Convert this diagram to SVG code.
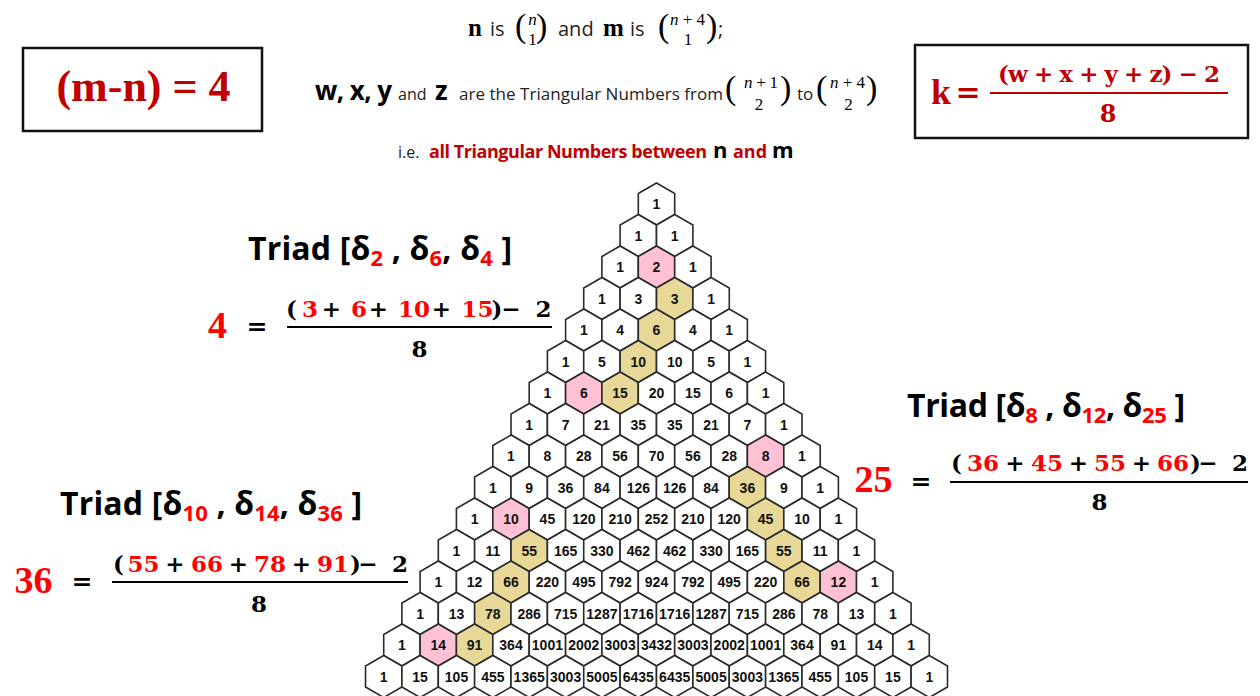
<svg xmlns="http://www.w3.org/2000/svg" xmlns:xlink="http://www.w3.org/1999/xlink" width="1260" height="696" viewBox="0 0 1260 696">
<style>
.cell use{fill:#fff;stroke:#2a2a2a;stroke-width:1.6}
.cell.p use{fill:#ffc1d3}
.cell.t use{fill:#e7d898}
.cell text{font-family:"Liberation Sans",Arial,sans-serif;font-weight:bold;font-size:14px;text-anchor:middle;fill:#111}
.sans{font-family:"Open Sans","Liberation Sans",sans-serif;fill:#222}
.sb{font-family:"Open Sans","Liberation Sans",sans-serif;font-weight:bold;fill:#000}
.mb{font-family:"Liberation Serif","Times New Roman",serif;font-weight:bold;font-size:25px;fill:#000}
.par{font-family:"Liberation Serif","Times New Roman",serif;font-size:34px;fill:#000}
.ms{font-family:"Liberation Serif","Times New Roman",serif;font-size:17px;fill:#000}
.mid{text-anchor:middle}
.dred{fill:#c00000}
.triad{font-family:"Open Sans","Liberation Sans",sans-serif;font-weight:bold;font-size:32px;fill:#000}
.sub{font-size:22px;fill:#f00}
.big{font-family:"Liberation Serif","Times New Roman",serif;font-weight:bold;font-size:38px;fill:#f00;text-anchor:middle}
.eq{font-family:"DejaVu Serif",serif;font-weight:bold;font-size:25px;text-anchor:middle;fill:#000}
.num{font-family:"DejaVu Serif",serif;font-weight:bold;font-size:23px;text-anchor:middle;fill:#000}
.r{fill:#f00}
.bar{stroke:#000;stroke-width:2}
.box{fill:#fff;stroke:#111;stroke-width:2.5}
</style>
<defs>
<polygon id="hx" points="0,-21 18.19,-10.5 18.19,10.5 0,21 -18.19,10.5 -18.19,-10.5"/>
</defs>
<rect width="1260" height="696" fill="#fff"/>

<g id="header">
<text class="mb" x="468" y="36">n</text>
<text class="sans" x="490" y="36" font-size="20">is</text>
<text class="par" x="515" y="37">(</text>
<text class="ms mid" x="532.5" y="25" font-style="italic">n</text>
<text class="ms mid" x="532.5" y="45">1</text>
<text class="par" x="536" y="37">)</text>
<text class="sans" x="558" y="36" font-size="20">and</text>
<text class="mb" x="603" y="36">m</text>
<text class="sans" x="630" y="36" font-size="20">is</text>
<text class="par" x="658" y="37">(</text>
<text class="ms" x="670" y="25" textLength="35"><tspan font-style="italic">n</tspan>+4</text>
<text class="ms mid" x="688" y="45">1</text>
<text class="par" x="706" y="37">)</text>
<text class="sans" x="718" y="36" font-size="20">;</text>

<text class="sb" x="315" y="100" font-size="26" textLength="77">w, x, y</text>
<text class="sans" x="398" y="100" font-size="16">and</text>
<text class="sb" x="435" y="100" font-size="26">z</text>
<text class="sans" x="459" y="100" font-size="17" textLength="264">are the Triangular Numbers from</text>
<text class="par" x="725" y="99">(</text>
<text class="ms" x="744" y="88" textLength="34"><tspan font-style="italic">n</tspan>+1</text>
<text class="ms mid" x="759" y="110">2</text>
<text class="par" x="780" y="99">)</text>
<text class="sans" x="797" y="100" font-size="17">to</text>
<text class="par" x="816" y="99">(</text>
<text class="ms" x="830" y="88" textLength="35"><tspan font-style="italic">n</tspan>+4</text>
<text class="ms mid" x="848.5" y="110">2</text>
<text class="par" x="866" y="99">)</text>

<text class="sans" x="398" y="158" font-size="16">i.e.</text>
<text class="sb dred" x="429" y="158" font-size="18" textLength="278">all Triangular Numbers between</text>
<text class="sb" x="713" y="158" font-size="22">n</text>
<text class="sb dred" x="733" y="158" font-size="18">and</text>
<text class="sb" x="772" y="158" font-size="22">m</text>
</g>

<g id="box-mn">
<rect class="box" x="23" y="48" width="239" height="83"/>
<text x="143.5" y="101" text-anchor="middle" font-family="Liberation Serif, Times New Roman, serif" font-weight="bold" font-size="44" fill="#c00000">(m-n) = 4</text>
</g>

<g id="box-k">
<rect class="box" x="915" y="45" width="333" height="93"/>
<text x="931" y="104" font-family="Liberation Serif, Times New Roman, serif" font-weight="bold" font-size="36" fill="#c00000">k</text>
<text class="eq" x="968" y="102" style="font-size:30px;fill:#c00000">=</text>
<line x1="990" y1="93" x2="1228" y2="93" stroke="#c00000" stroke-width="2"/>
<text x="998" y="82" font-family="DejaVu Serif, serif" font-weight="bold" font-size="23" fill="#c00000" textLength="222">(w + x + y + z) − 2</text>
<text class="num" x="1108" y="122" style="fill:#c00000;font-size:24px">8</text>
</g>

<g id="triad-1">
<text class="triad" x="248" y="260" textLength="264">Triad [δ<tspan class="sub" dy="6">2</tspan><tspan dy="-6"> , δ</tspan><tspan class="sub" dy="6">6</tspan><tspan dy="-6">, δ</tspan><tspan class="sub" dy="6">4</tspan><tspan dy="-6"> ]</tspan></text>
<text class="big" x="217.5" y="338">4</text>
<text class="eq" x="257" y="335">=</text>
<line class="bar" x1="287" y1="327" x2="552" y2="327"/>
<text class="num" y="317"><tspan x="291.5">(</tspan><tspan x="310" class="r">3</tspan><tspan x="331.5">+</tspan><tspan x="359" class="r">6</tspan><tspan x="378.5">+</tspan><tspan x="414" class="r">10</tspan><tspan x="441.5">+</tspan><tspan x="477.5" class="r">15</tspan><tspan x="497">)</tspan><tspan x="511">−</tspan><tspan x="543.5">2</tspan></text>
<text class="num" x="419.5" y="357">8</text>
</g>

<g id="triad-2">
<text class="triad" x="907" y="417" textLength="278">Triad [δ<tspan class="sub" dy="6">8</tspan><tspan dy="-6"> , δ</tspan><tspan class="sub" dy="6">12</tspan><tspan dy="-6">, δ</tspan><tspan class="sub" dy="6">25</tspan><tspan dy="-6"> ]</tspan></text>
<text class="big" x="873.5" y="492">25</text>
<text class="eq" x="921" y="490">=</text>
<line class="bar" x1="950" y1="482" x2="1248" y2="482"/>
<text class="num" y="471"><tspan x="956.5">(</tspan><tspan x="983" class="r">36</tspan><tspan x="1015">+</tspan><tspan x="1047" class="r">45</tspan><tspan x="1078.5">+</tspan><tspan x="1110" class="r">55</tspan><tspan x="1141.5">+</tspan><tspan x="1173" class="r">66</tspan><tspan x="1195.5">)</tspan><tspan x="1208">−</tspan><tspan x="1240">2</tspan></text>
<text class="num" x="1099.5" y="510">8</text>
</g>

<g id="triad-3">
<text class="triad" x="60" y="515" textLength="302">Triad [δ<tspan class="sub" dy="6">10</tspan><tspan dy="-6"> , δ</tspan><tspan class="sub" dy="6">14</tspan><tspan dy="-6">, δ</tspan><tspan class="sub" dy="6">36</tspan><tspan dy="-6"> ]</tspan></text>
<text class="big" x="33.5" y="593">36</text>
<text class="eq" x="82" y="590">=</text>
<line class="bar" x1="112" y1="582" x2="408" y2="582"/>
<text class="num" y="572"><tspan x="118.5">(</tspan><tspan x="143.5" class="r">55</tspan><tspan x="175">+</tspan><tspan x="207" class="r">66</tspan><tspan x="238.5">+</tspan><tspan x="270" class="r">78</tspan><tspan x="301.5">+</tspan><tspan x="333" class="r">91</tspan><tspan x="355.5">)</tspan><tspan x="368">−</tspan><tspan x="400">2</tspan></text>
<text class="num" x="259" y="612">8</text>
</g>

<g id="triangle">
<g id="r0c0" class="cell" transform="translate(656.5,204)"><use href="#hx"/><text y="5">1</text></g>

<g id="r1c0" class="cell" transform="translate(638.3,235.5)"><use href="#hx"/><text y="5">1</text></g>
<g id="r1c1" class="cell" transform="translate(674.7,235.5)"><use href="#hx"/><text y="5">1</text></g>

<g id="r2c0" class="cell" transform="translate(620.1,267)"><use href="#hx"/><text y="5">1</text></g>
<g id="r2c1" class="cell p" transform="translate(656.5,267)"><use href="#hx"/><text y="5">2</text></g>
<g id="r2c2" class="cell" transform="translate(692.9,267)"><use href="#hx"/><text y="5">1</text></g>

<g id="r3c0" class="cell" transform="translate(601.9,298.5)"><use href="#hx"/><text y="5">1</text></g>
<g id="r3c1" class="cell" transform="translate(638.3,298.5)"><use href="#hx"/><text y="5">3</text></g>
<g id="r3c2" class="cell t" transform="translate(674.7,298.5)"><use href="#hx"/><text y="5">3</text></g>
<g id="r3c3" class="cell" transform="translate(711.1,298.5)"><use href="#hx"/><text y="5">1</text></g>

<g id="r4c0" class="cell" transform="translate(583.8,330)"><use href="#hx"/><text y="5">1</text></g>
<g id="r4c1" class="cell" transform="translate(620.1,330)"><use href="#hx"/><text y="5">4</text></g>
<g id="r4c2" class="cell t" transform="translate(656.5,330)"><use href="#hx"/><text y="5">6</text></g>
<g id="r4c3" class="cell" transform="translate(692.9,330)"><use href="#hx"/><text y="5">4</text></g>
<g id="r4c4" class="cell" transform="translate(729.2,330)"><use href="#hx"/><text y="5">1</text></g>

<g id="r5c0" class="cell" transform="translate(565.6,361.5)"><use href="#hx"/><text y="5">1</text></g>
<g id="r5c1" class="cell" transform="translate(601.9,361.5)"><use href="#hx"/><text y="5">5</text></g>
<g id="r5c2" class="cell t" transform="translate(638.3,361.5)"><use href="#hx"/><text y="5">10</text></g>
<g id="r5c3" class="cell" transform="translate(674.7,361.5)"><use href="#hx"/><text y="5">10</text></g>
<g id="r5c4" class="cell" transform="translate(711.1,361.5)"><use href="#hx"/><text y="5">5</text></g>
<g id="r5c5" class="cell" transform="translate(747.4,361.5)"><use href="#hx"/><text y="5">1</text></g>

<g id="r6c0" class="cell" transform="translate(547.4,393)"><use href="#hx"/><text y="5">1</text></g>
<g id="r6c1" class="cell p" transform="translate(583.8,393)"><use href="#hx"/><text y="5">6</text></g>
<g id="r6c2" class="cell t" transform="translate(620.1,393)"><use href="#hx"/><text y="5">15</text></g>
<g id="r6c3" class="cell" transform="translate(656.5,393)"><use href="#hx"/><text y="5">20</text></g>
<g id="r6c4" class="cell" transform="translate(692.9,393)"><use href="#hx"/><text y="5">15</text></g>
<g id="r6c5" class="cell" transform="translate(729.2,393)"><use href="#hx"/><text y="5">6</text></g>
<g id="r6c6" class="cell" transform="translate(765.6,393)"><use href="#hx"/><text y="5">1</text></g>

<g id="r7c0" class="cell" transform="translate(529.2,424.5)"><use href="#hx"/><text y="5">1</text></g>
<g id="r7c1" class="cell" transform="translate(565.6,424.5)"><use href="#hx"/><text y="5">7</text></g>
<g id="r7c2" class="cell" transform="translate(601.9,424.5)"><use href="#hx"/><text y="5">21</text></g>
<g id="r7c3" class="cell" transform="translate(638.3,424.5)"><use href="#hx"/><text y="5">35</text></g>
<g id="r7c4" class="cell" transform="translate(674.7,424.5)"><use href="#hx"/><text y="5">35</text></g>
<g id="r7c5" class="cell" transform="translate(711.1,424.5)"><use href="#hx"/><text y="5">21</text></g>
<g id="r7c6" class="cell" transform="translate(747.4,424.5)"><use href="#hx"/><text y="5">7</text></g>
<g id="r7c7" class="cell" transform="translate(783.8,424.5)"><use href="#hx"/><text y="5">1</text></g>

<g id="r8c0" class="cell" transform="translate(511,456)"><use href="#hx"/><text y="5">1</text></g>
<g id="r8c1" class="cell" transform="translate(547.4,456)"><use href="#hx"/><text y="5">8</text></g>
<g id="r8c2" class="cell" transform="translate(583.8,456)"><use href="#hx"/><text y="5">28</text></g>
<g id="r8c3" class="cell" transform="translate(620.1,456)"><use href="#hx"/><text y="5">56</text></g>
<g id="r8c4" class="cell" transform="translate(656.5,456)"><use href="#hx"/><text y="5">70</text></g>
<g id="r8c5" class="cell" transform="translate(692.9,456)"><use href="#hx"/><text y="5">56</text></g>
<g id="r8c6" class="cell" transform="translate(729.2,456)"><use href="#hx"/><text y="5">28</text></g>
<g id="r8c7" class="cell p" transform="translate(765.6,456)"><use href="#hx"/><text y="5">8</text></g>
<g id="r8c8" class="cell" transform="translate(802,456)"><use href="#hx"/><text y="5">1</text></g>

<g id="r9c0" class="cell" transform="translate(492.8,487.5)"><use href="#hx"/><text y="5">1</text></g>
<g id="r9c1" class="cell" transform="translate(529.2,487.5)"><use href="#hx"/><text y="5">9</text></g>
<g id="r9c2" class="cell" transform="translate(565.6,487.5)"><use href="#hx"/><text y="5">36</text></g>
<g id="r9c3" class="cell" transform="translate(601.9,487.5)"><use href="#hx"/><text y="5">84</text></g>
<g id="r9c4" class="cell" transform="translate(638.3,487.5)"><use href="#hx"/><text y="5">126</text></g>
<g id="r9c5" class="cell" transform="translate(674.7,487.5)"><use href="#hx"/><text y="5">126</text></g>
<g id="r9c6" class="cell" transform="translate(711.1,487.5)"><use href="#hx"/><text y="5">84</text></g>
<g id="r9c7" class="cell t" transform="translate(747.4,487.5)"><use href="#hx"/><text y="5">36</text></g>
<g id="r9c8" class="cell" transform="translate(783.8,487.5)"><use href="#hx"/><text y="5">9</text></g>
<g id="r9c9" class="cell" transform="translate(820.2,487.5)"><use href="#hx"/><text y="5">1</text></g>

<g id="r10c0" class="cell" transform="translate(474.6,519)"><use href="#hx"/><text y="5">1</text></g>
<g id="r10c1" class="cell p" transform="translate(511,519)"><use href="#hx"/><text y="5">10</text></g>
<g id="r10c2" class="cell" transform="translate(547.4,519)"><use href="#hx"/><text y="5">45</text></g>
<g id="r10c3" class="cell" transform="translate(583.8,519)"><use href="#hx"/><text y="5">120</text></g>
<g id="r10c4" class="cell" transform="translate(620.1,519)"><use href="#hx"/><text y="5">210</text></g>
<g id="r10c5" class="cell" transform="translate(656.5,519)"><use href="#hx"/><text y="5">252</text></g>
<g id="r10c6" class="cell" transform="translate(692.9,519)"><use href="#hx"/><text y="5">210</text></g>
<g id="r10c7" class="cell" transform="translate(729.2,519)"><use href="#hx"/><text y="5">120</text></g>
<g id="r10c8" class="cell t" transform="translate(765.6,519)"><use href="#hx"/><text y="5">45</text></g>
<g id="r10c9" class="cell" transform="translate(802,519)"><use href="#hx"/><text y="5">10</text></g>
<g id="r10c10" class="cell" transform="translate(838.4,519)"><use href="#hx"/><text y="5">1</text></g>

<g id="r11c0" class="cell" transform="translate(456.5,550.5)"><use href="#hx"/><text y="5">1</text></g>
<g id="r11c1" class="cell" transform="translate(492.8,550.5)"><use href="#hx"/><text y="5">11</text></g>
<g id="r11c2" class="cell t" transform="translate(529.2,550.5)"><use href="#hx"/><text y="5">55</text></g>
<g id="r11c3" class="cell" transform="translate(565.6,550.5)"><use href="#hx"/><text y="5">165</text></g>
<g id="r11c4" class="cell" transform="translate(601.9,550.5)"><use href="#hx"/><text y="5">330</text></g>
<g id="r11c5" class="cell" transform="translate(638.3,550.5)"><use href="#hx"/><text y="5">462</text></g>
<g id="r11c6" class="cell" transform="translate(674.7,550.5)"><use href="#hx"/><text y="5">462</text></g>
<g id="r11c7" class="cell" transform="translate(711.1,550.5)"><use href="#hx"/><text y="5">330</text></g>
<g id="r11c8" class="cell" transform="translate(747.4,550.5)"><use href="#hx"/><text y="5">165</text></g>
<g id="r11c9" class="cell t" transform="translate(783.8,550.5)"><use href="#hx"/><text y="5">55</text></g>
<g id="r11c10" class="cell" transform="translate(820.2,550.5)"><use href="#hx"/><text y="5">11</text></g>
<g id="r11c11" class="cell" transform="translate(856.5,550.5)"><use href="#hx"/><text y="5">1</text></g>

<g id="r12c0" class="cell" transform="translate(438.3,582)"><use href="#hx"/><text y="5">1</text></g>
<g id="r12c1" class="cell" transform="translate(474.6,582)"><use href="#hx"/><text y="5">12</text></g>
<g id="r12c2" class="cell t" transform="translate(511,582)"><use href="#hx"/><text y="5">66</text></g>
<g id="r12c3" class="cell" transform="translate(547.4,582)"><use href="#hx"/><text y="5">220</text></g>
<g id="r12c4" class="cell" transform="translate(583.8,582)"><use href="#hx"/><text y="5">495</text></g>
<g id="r12c5" class="cell" transform="translate(620.1,582)"><use href="#hx"/><text y="5">792</text></g>
<g id="r12c6" class="cell" transform="translate(656.5,582)"><use href="#hx"/><text y="5">924</text></g>
<g id="r12c7" class="cell" transform="translate(692.9,582)"><use href="#hx"/><text y="5">792</text></g>
<g id="r12c8" class="cell" transform="translate(729.2,582)"><use href="#hx"/><text y="5">495</text></g>
<g id="r12c9" class="cell" transform="translate(765.6,582)"><use href="#hx"/><text y="5">220</text></g>
<g id="r12c10" class="cell t" transform="translate(802,582)"><use href="#hx"/><text y="5">66</text></g>
<g id="r12c11" class="cell p" transform="translate(838.4,582)"><use href="#hx"/><text y="5">12</text></g>
<g id="r12c12" class="cell" transform="translate(874.7,582)"><use href="#hx"/><text y="5">1</text></g>

<g id="r13c0" class="cell" transform="translate(420.1,613.5)"><use href="#hx"/><text y="5">1</text></g>
<g id="r13c1" class="cell" transform="translate(456.5,613.5)"><use href="#hx"/><text y="5">13</text></g>
<g id="r13c2" class="cell t" transform="translate(492.8,613.5)"><use href="#hx"/><text y="5">78</text></g>
<g id="r13c3" class="cell" transform="translate(529.2,613.5)"><use href="#hx"/><text y="5">286</text></g>
<g id="r13c4" class="cell" transform="translate(565.6,613.5)"><use href="#hx"/><text y="5">715</text></g>
<g id="r13c5" class="cell" transform="translate(601.9,613.5)"><use href="#hx"/><text y="5">1287</text></g>
<g id="r13c6" class="cell" transform="translate(638.3,613.5)"><use href="#hx"/><text y="5">1716</text></g>
<g id="r13c7" class="cell" transform="translate(674.7,613.5)"><use href="#hx"/><text y="5">1716</text></g>
<g id="r13c8" class="cell" transform="translate(711.1,613.5)"><use href="#hx"/><text y="5">1287</text></g>
<g id="r13c9" class="cell" transform="translate(747.4,613.5)"><use href="#hx"/><text y="5">715</text></g>
<g id="r13c10" class="cell" transform="translate(783.8,613.5)"><use href="#hx"/><text y="5">286</text></g>
<g id="r13c11" class="cell" transform="translate(820.2,613.5)"><use href="#hx"/><text y="5">78</text></g>
<g id="r13c12" class="cell" transform="translate(856.5,613.5)"><use href="#hx"/><text y="5">13</text></g>
<g id="r13c13" class="cell" transform="translate(892.9,613.5)"><use href="#hx"/><text y="5">1</text></g>

<g id="r14c0" class="cell" transform="translate(401.9,645)"><use href="#hx"/><text y="5">1</text></g>
<g id="r14c1" class="cell p" transform="translate(438.3,645)"><use href="#hx"/><text y="5">14</text></g>
<g id="r14c2" class="cell t" transform="translate(474.6,645)"><use href="#hx"/><text y="5">91</text></g>
<g id="r14c3" class="cell" transform="translate(511,645)"><use href="#hx"/><text y="5">364</text></g>
<g id="r14c4" class="cell" transform="translate(547.4,645)"><use href="#hx"/><text y="5">1001</text></g>
<g id="r14c5" class="cell" transform="translate(583.8,645)"><use href="#hx"/><text y="5">2002</text></g>
<g id="r14c6" class="cell" transform="translate(620.1,645)"><use href="#hx"/><text y="5">3003</text></g>
<g id="r14c7" class="cell" transform="translate(656.5,645)"><use href="#hx"/><text y="5">3432</text></g>
<g id="r14c8" class="cell" transform="translate(692.9,645)"><use href="#hx"/><text y="5">3003</text></g>
<g id="r14c9" class="cell" transform="translate(729.2,645)"><use href="#hx"/><text y="5">2002</text></g>
<g id="r14c10" class="cell" transform="translate(765.6,645)"><use href="#hx"/><text y="5">1001</text></g>
<g id="r14c11" class="cell" transform="translate(802,645)"><use href="#hx"/><text y="5">364</text></g>
<g id="r14c12" class="cell" transform="translate(838.4,645)"><use href="#hx"/><text y="5">91</text></g>
<g id="r14c13" class="cell" transform="translate(874.7,645)"><use href="#hx"/><text y="5">14</text></g>
<g id="r14c14" class="cell" transform="translate(911.1,645)"><use href="#hx"/><text y="5">1</text></g>

<g id="r15c0" class="cell" transform="translate(383.7,676.5)"><use href="#hx"/><text y="5">1</text></g>
<g id="r15c1" class="cell" transform="translate(420.1,676.5)"><use href="#hx"/><text y="5">15</text></g>
<g id="r15c2" class="cell" transform="translate(456.5,676.5)"><use href="#hx"/><text y="5">105</text></g>
<g id="r15c3" class="cell" transform="translate(492.8,676.5)"><use href="#hx"/><text y="5">455</text></g>
<g id="r15c4" class="cell" transform="translate(529.2,676.5)"><use href="#hx"/><text y="5">1365</text></g>
<g id="r15c5" class="cell" transform="translate(565.6,676.5)"><use href="#hx"/><text y="5">3003</text></g>
<g id="r15c6" class="cell" transform="translate(601.9,676.5)"><use href="#hx"/><text y="5">5005</text></g>
<g id="r15c7" class="cell" transform="translate(638.3,676.5)"><use href="#hx"/><text y="5">6435</text></g>
<g id="r15c8" class="cell" transform="translate(674.7,676.5)"><use href="#hx"/><text y="5">6435</text></g>
<g id="r15c9" class="cell" transform="translate(711.1,676.5)"><use href="#hx"/><text y="5">5005</text></g>
<g id="r15c10" class="cell" transform="translate(747.4,676.5)"><use href="#hx"/><text y="5">3003</text></g>
<g id="r15c11" class="cell" transform="translate(783.8,676.5)"><use href="#hx"/><text y="5">1365</text></g>
<g id="r15c12" class="cell" transform="translate(820.2,676.5)"><use href="#hx"/><text y="5">455</text></g>
<g id="r15c13" class="cell" transform="translate(856.5,676.5)"><use href="#hx"/><text y="5">105</text></g>
<g id="r15c14" class="cell" transform="translate(892.9,676.5)"><use href="#hx"/><text y="5">15</text></g>
<g id="r15c15" class="cell" transform="translate(929.3,676.5)"><use href="#hx"/><text y="5">1</text></g>
</g>
<g id="connectors"/>
</svg>
